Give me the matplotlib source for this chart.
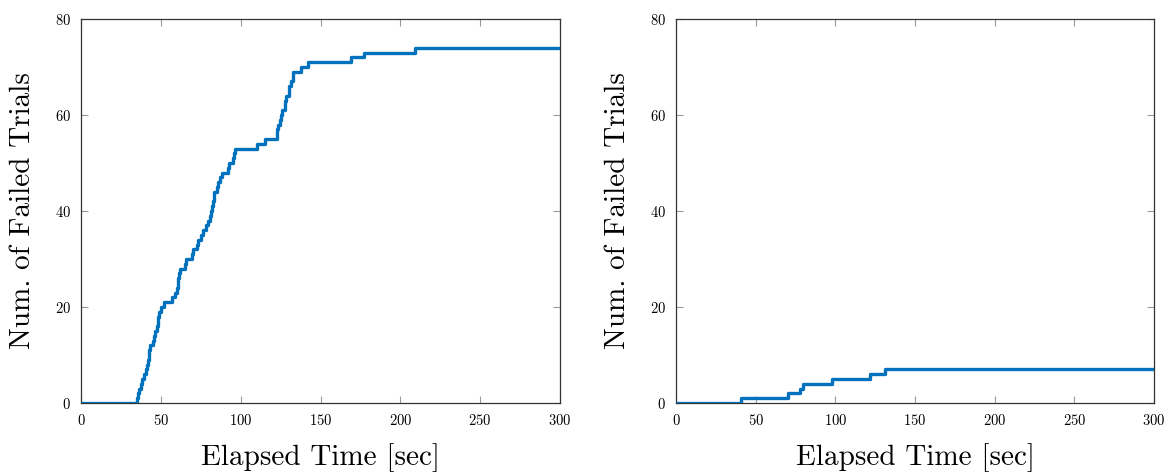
import matplotlib
matplotlib.use("Agg")
import matplotlib.pyplot as plt
import numpy as np

plt.rcParams['font.family'] = ['cmr10', 'DejaVu Serif']
plt.rcParams['axes.formatter.use_mathtext'] = True
plt.rcParams['mathtext.fontset'] = 'cm'

# times (sec) at which each trial failed
fail_left = [35, 35.5, 36.5, 37.5, 38.5, 39.5, 40.5, 41.5, 42, 42.3, 42.6, 43,
             45, 46, 46.5, 47.5, 48, 48.5, 49, 50, 52, 57, 59, 60.3, 60.6, 61,
             61.3, 62, 65, 66, 69.5, 70, 72.5, 73, 75, 76.5, 78.5, 79.5, 81,
             81.5, 82, 82.5, 83, 83.5, 85, 85.5, 87, 88, 92, 93, 95, 96, 96.5,
             110.5, 115, 122.5, 123, 123.5, 124.5, 125.5, 126, 127.5, 128,
             128.5, 130, 130.5, 131.5, 132.5, 133, 138, 142, 169, 177, 209]
fail_right = [41, 70, 78, 80, 98, 122, 131]

t_max = 300
x_ticks = [0, 50, 100, 150, 200, 250, 300]
y_ticks = [0, 20, 40, 60, 80]
line_color = '#0072BD'


def step_series(times):
    xs = [0] + list(times) + [t_max]
    ys = [0] + list(range(1, len(times) + 1)) + [len(times)]
    return xs, ys


fig = plt.figure(figsize=(11.71, 4.72), dpi=100)
ax1 = fig.add_axes([81 / 1171, 69 / 472, 479 / 1171, 384 / 472])
ax2 = fig.add_axes([676 / 1171, 69 / 472, 478 / 1171, 384 / 472])

for ax, data in [(ax1, fail_left), (ax2, fail_right)]:
    xs, ys = step_series(data)
    ax.step(xs, ys, where='post', color=line_color, lw=2.4, zorder=3)
    ax.set_xlim(0, t_max)
    ax.set_ylim(0, 80)
    ax.set_xticks(x_ticks)
    ax.set_yticks(y_ticks)
    ax.tick_params(direction='in', top=True, right=True, length=5, width=0.8,
                   color='#999999', labelsize=10.5, pad=7)
    for s in ax.spines.values():
        s.set_color('#333333')
        s.set_linewidth(0.9)
    ax.set_xlabel('Elapsed Time [sec]', fontsize=21, labelpad=11)
    ax.set_ylabel('Num. of Failed Trials', fontsize=21, labelpad=14)

fig.savefig('out.png', dpi=100)
